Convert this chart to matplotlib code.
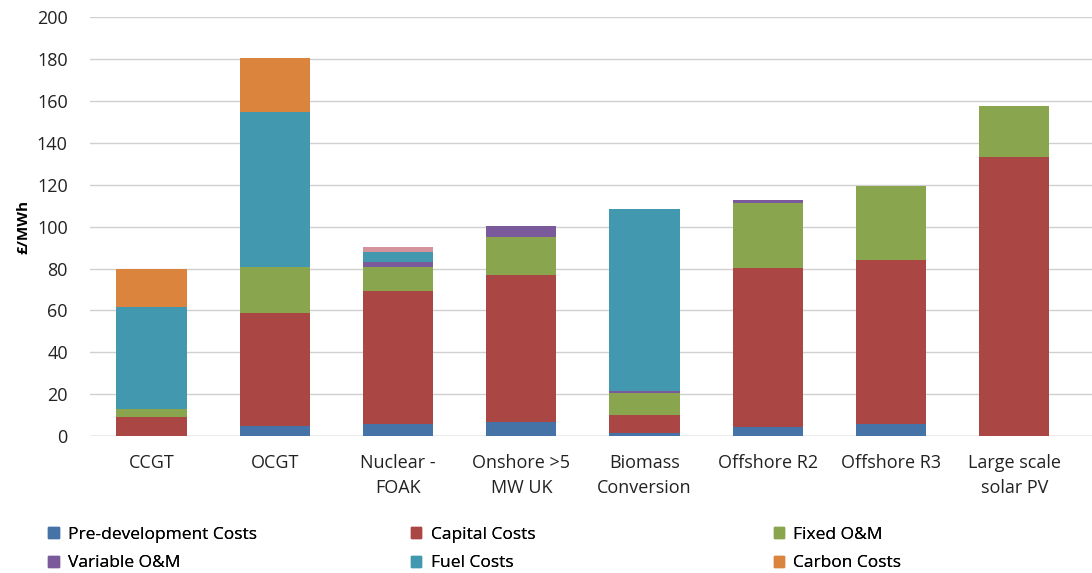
import matplotlib.pyplot as plt
import matplotlib.patches as mpatches
import numpy as np

plt.rcParams['font.family'] = ['Open Sans', 'DejaVu Sans']

categories = ["CCGT", "OCGT", "Nuclear -\nFOAK", "Onshore >5\nMW UK", "Biomass\nConversion",
              "Offshore R2", "Offshore R3", "Large scale\nsolar PV"]

predev = [0, 4.9, 5.7, 6.8, 1.3, 4.1, 5.7, 0]
capital = [9.0, 53.7, 63.7, 69.9, 8.7, 76.3, 78.3, 133.4]
fixed_om = [3.7, 22.2, 11.1, 18.4, 10.7, 31.0, 35.5, 24.3]
variable_om = [0, 0, 2.4, 5.3, 0.9, 1.2, 0, 0]
fuel = [48.9, 73.7, 5.0, 0, 86.6, 0, 0, 0]
carbon = [18.0, 25.8, 0, 0, 0, 0, 0, 0]
decommissioning = [0, 0, 2.2, 0, 0, 0, 0, 0]   # pink strip on nuclear, not in legend

series = [
    ("Pre-development Costs", predev, "#4572a7"),
    ("Capital Costs", capital, "#aa4643"),
    ("Fixed O&M", fixed_om, "#89a54e"),
    ("Variable O&M", variable_om, "#7b5a9b"),
    ("Fuel Costs", fuel, "#4198af"),
    ("Carbon Costs", carbon, "#db843d"),
    ("Decommissioning", decommissioning, "#d4939a"),
]

fig = plt.figure(figsize=(10.92, 5.73), dpi=100)
ax = fig.add_axes([0.0824, 0.239, 0.9176, 0.731])

x = np.arange(len(categories))
bottom = np.zeros(len(categories))
for name, vals, col in series:
    ax.bar(x, vals, 0.57, bottom=bottom, color=col, zorder=2)
    bottom += np.array(vals)

ax.set_ylim(0, 200)
ax.set_xlim(-0.5, 7.63)
ax.set_yticks(range(0, 201, 20))
ax.yaxis.grid(True, color="#d0d0d0", linewidth=1.0, zorder=0)
ax.set_axisbelow(True)
for s in ax.spines.values():
    s.set_visible(False)
ax.axhline(0, color="#c8c8c8", linewidth=1.0, zorder=1)
ax.tick_params(axis="both", length=0, labelsize=13, colors="#222222")
ax.tick_params(axis="y", pad=16)
ax.tick_params(axis="x", pad=13)
ax.set_xticks(x)
ax.set_xticklabels(categories, linespacing=1.5)
ax.set_ylabel("£/MWh", fontsize=11, fontweight="bold", labelpad=5)

# legend: three columns, each a separate legend
cols = [[0, 3], [1, 4], [2, 5]]
xpos = [0.038, 0.370, 0.702]
for c, xp in zip(cols, xpos):
    handles = [mpatches.Patch(color=series[i][2], label=series[i][0]) for i in c]
    leg = fig.legend(handles=handles, loc="upper left", bbox_to_anchor=(xp, 0.093),
                     frameon=False, fontsize=12.5, handlelength=0.6, handleheight=0.6,
                     handletextpad=0.55, labelspacing=0.72, borderaxespad=0)
    fig.add_artist(leg)

plt.savefig("out.png", dpi=100)
plt.close()
